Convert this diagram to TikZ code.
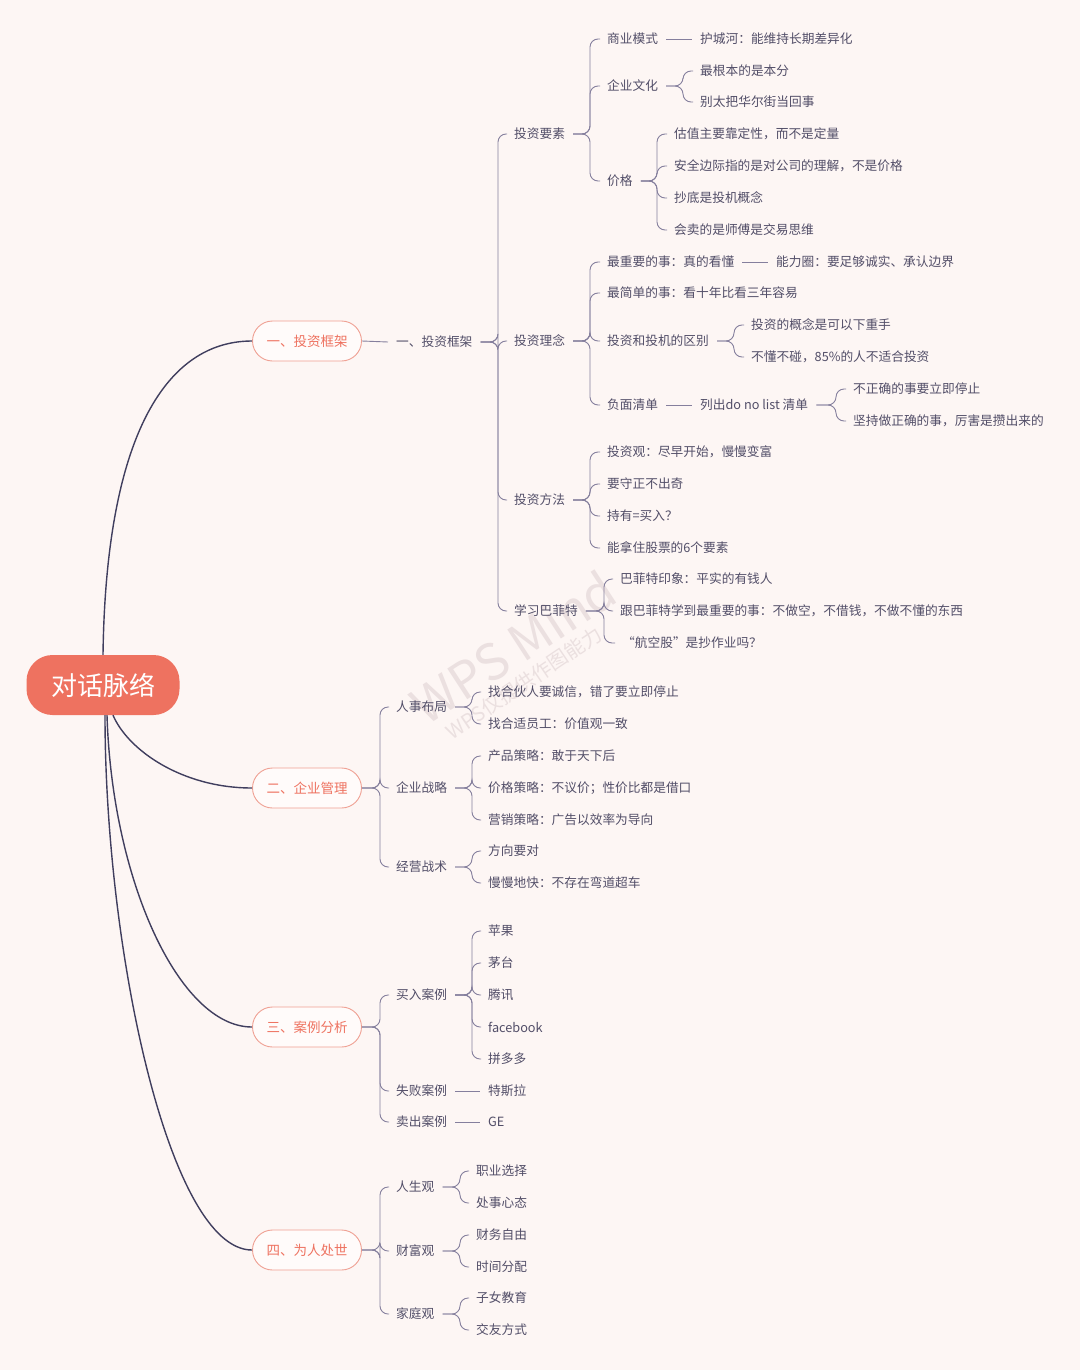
\documentclass[tikz,border=0pt]{standalone}
\usepackage{fontspec}
\setmainfont{Noto Sans CJK SC}
\usepackage{xcolor}
\usepackage{tikz}
\usetikzlibrary{positioning,calc,shapes.misc}
\definecolor{MapBg}{HTML}{FDF6F4}
\definecolor{MapCoral}{HTML}{EE7260}
\definecolor{MapRim}{HTML}{EFA093}
\definecolor{MapPill}{HTML}{FFFBFA}
\definecolor{MapInk}{HTML}{524E68}
\definecolor{MapLine}{HTML}{857F9D}
\definecolor{MapDark}{HTML}{403E5E}
\definecolor{MapMark}{HTML}{EBE0E0}

\begin{document}
\begin{tikzpicture}[x=1pt,y=-1pt,
  leaf/.style={anchor=west,inner sep=0pt,text=MapInk,font=\fontsize{12.7}{14}\selectfont},
  topic/.style={rounded rectangle,draw=MapRim,line width=0.9pt,fill=MapPill,text=MapCoral,
    minimum width=109pt,minimum height=40pt,inner sep=0pt,font=\fontsize{13.5}{15}\selectfont},
  link/.style={draw=MapLine,line width=0.9pt,rounded corners=8pt},
  stem/.style={draw=MapDark,line width=1.4pt}]
\fill[MapBg] (0,0) rectangle (1080,1370);
\useasboundingbox (0,0) rectangle (1080,1370);

% watermark
\node[rotate=33,text=MapMark,font=\fontsize{50}{52}\selectfont] (wm) at (513,647) {WPS Mind};
\node[rotate=34,text=MapMark,font=\fontsize{20}{22}\selectfont] (wmsub) at (524,683) {WPS仅提供作图能力};

% root and main topics
\node[fill=MapCoral,text=white,rounded corners=26pt,minimum width=153pt,minimum height=60pt,
  font=\fontsize{26}{28}\selectfont] (root) at (103,685) {对话脉络};
\node[topic] (t1) at (307,341) {一、投资框架};
\node[topic] (t2) at (307,788) {二、企业管理};
\node[topic] (t3) at (307,1027) {三、案例分析};
\node[topic] (t4) at (307,1250) {四、为人处世};

\draw[stem] (root.north) .. controls +(3,-225) and +(-83,0) .. (t1.west);
\draw[stem] ([xshift=10pt]root.south) .. controls +(15,35) and +(-70,0) .. (t2.west);
\draw[stem] ([xshift=4pt]root.south) .. controls +(5,165) and +(-73,0) .. (t3.west);
\draw[stem] ([xshift=2pt]root.south) .. controls +(0,235) and +(-83,0) .. (t4.west);

% 一
\node[leaf] (k0) at (396,342) {一、投资框架};
\node[leaf] (ys) at (514,134) {投资要素};
\node[leaf] (ln) at (514,341) {投资理念};
\node[leaf] (ff) at (514,500) {投资方法};
\node[leaf] (bft) at (514,611) {学习巴菲特};

\node[leaf] (sy) at (607,39) {商业模式};
\node[leaf] (wh) at (607,86) {企业文化};
\node[leaf] (jg) at (607,181) {价格};
\node[leaf] (hch) at (700,39) {护城河：能维持长期差异化};
\node[leaf] (wh1) at (700,71) {最根本的是本分};
\node[leaf] (wh2) at (700,102) {别太把华尔街当回事};
\node[leaf] (jg1) at (674,134) {估值主要靠定性，而不是定量};
\node[leaf] (jg2) at (674,166) {安全边际指的是对公司的理解，不是价格};
\node[leaf] (jg3) at (674,198) {抄底是投机概念};
\node[leaf] (jg4) at (674,230) {会卖的是师傅是交易思维};

\node[leaf] (zy) at (607,262) {最重要的事：真的看懂};
\node[leaf] (zj) at (607,293) {最简单的事：看十年比看三年容易};
\node[leaf] (qb) at (607,341) {投资和投机的区别};
\node[leaf] (fm) at (607,405) {负面清单};
\node[leaf] (nl) at (776,262) {能力圈：要足够诚实、承认边界};
\node[leaf] (qb1) at (751,325) {投资的概念是可以下重手};
\node[leaf] (qb2) at (751,357) {不懂不碰，85\%的人不适合投资};
\node[leaf] (lc) at (700,405) {列出do no list 清单};
\node[leaf] (lc1) at (853,389) {不正确的事要立即停止};
\node[leaf] (lc2) at (853,421) {坚持做正确的事，厉害是攒出来的};

\node[leaf] (ff1) at (607,452) {投资观：尽早开始，慢慢变富};
\node[leaf] (ff2) at (607,484) {要守正不出奇};
\node[leaf] (ff3) at (607,516) {持有=买入？};
\node[leaf] (ff4) at (607,548) {能拿住股票的6个要素};

\node[leaf] (b1) at (620,579) {巴菲特印象：平实的有钱人};
\node[leaf] (b2) at (620,611) {跟巴菲特学到最重要的事：不做空，不借钱，不做不懂的东西};
\node[leaf] (b3) at (622,643) {“航空股”是抄作业吗？};

\draw[link] (t1.east) -- ([xshift=-8pt]k0.west);
\foreach \c in {ys,ln,ff,bft}
  \draw[link] ([xshift=8pt]k0.east) -- ([xshift=-16pt]k0.east -| \c.west) |- ([xshift=-7pt]\c.west);
\foreach \c in {sy,wh,jg}
  \draw[link] ([xshift=8pt]ys.east) -- ([xshift=-17pt]ys.east -| \c.west) |- ([xshift=-7pt]\c.west);
\draw[link] ([xshift=8pt]sy.east) -- ([xshift=-8pt]hch.west);
\foreach \c in {wh1,wh2}
  \draw[link] ([xshift=8pt]wh.east) -- ([xshift=-17pt]wh.east -| \c.west) |- ([xshift=-7pt]\c.west);
\foreach \c in {jg1,jg2,jg3,jg4}
  \draw[link] ([xshift=8pt]jg.east) -- ([xshift=-17pt]jg.east -| \c.west) |- ([xshift=-7pt]\c.west);
\foreach \c in {zy,zj,qb,fm}
  \draw[link] ([xshift=8pt]ln.east) -- ([xshift=-17pt]ln.east -| \c.west) |- ([xshift=-7pt]\c.west);
\draw[link] ([xshift=8pt]zy.east) -- ([xshift=-8pt]nl.west);
\foreach \c in {qb1,qb2}
  \draw[link] ([xshift=8pt]qb.east) -- ([xshift=-17pt]qb.east -| \c.west) |- ([xshift=-7pt]\c.west);
\draw[link] ([xshift=8pt]fm.east) -- ([xshift=-8pt]lc.west);
\foreach \c in {lc1,lc2}
  \draw[link] ([xshift=8pt]lc.east) -- ([xshift=-17pt]lc.east -| \c.west) |- ([xshift=-7pt]\c.west);
\foreach \c in {ff1,ff2,ff3,ff4}
  \draw[link] ([xshift=8pt]ff.east) -- ([xshift=-17pt]ff.east -| \c.west) |- ([xshift=-7pt]\c.west);
\foreach \c in {b1,b2,b3}
  \draw[link] ([xshift=8pt]bft.east) -- ([xshift=-16pt]bft.east -| b1.west) |- ([xshift=-7pt]\c.west);

% 二
\node[leaf] (rs) at (396,707) {人事布局};
\node[leaf] (zl) at (396,788) {企业战略};
\node[leaf] (zs) at (396,867) {经营战术};
\node[leaf] (rs1) at (488,692) {找合伙人要诚信，错了要立即停止};
\node[leaf] (rs2) at (488,724) {找合适员工：价值观一致};
\node[leaf] (zl1) at (488,756) {产品策略：敢于天下后};
\node[leaf] (zl2) at (488,788) {价格策略：不议价；性价比都是借口};
\node[leaf] (zl3) at (488,820) {营销策略：广告以效率为导向};
\node[leaf] (zs1) at (488,851) {方向要对};
\node[leaf] (zs2) at (488,883) {慢慢地快：不存在弯道超车};

\foreach \c in {rs,zl,zs}
  \draw[link] (t2.east) -- ([xshift=-16pt]t2.east -| \c.west) |- ([xshift=-7pt]\c.west);
\foreach \c in {rs1,rs2}
  \draw[link] ([xshift=8pt]rs.east) -- ([xshift=-16pt]rs.east -| \c.west) |- ([xshift=-7pt]\c.west);
\foreach \c in {zl1,zl2,zl3}
  \draw[link] ([xshift=8pt]zl.east) -- ([xshift=-16pt]zl.east -| \c.west) |- ([xshift=-7pt]\c.west);
\foreach \c in {zs1,zs2}
  \draw[link] ([xshift=8pt]zs.east) -- ([xshift=-16pt]zs.east -| \c.west) |- ([xshift=-7pt]\c.west);

% 三
\node[leaf] (mr) at (396,995) {买入案例};
\node[leaf] (sb) at (396,1091) {失败案例};
\node[leaf] (mc) at (396,1122) {卖出案例};
\node[leaf] (mr1) at (488,931) {苹果};
\node[leaf] (mr2) at (488,963) {茅台};
\node[leaf] (mr3) at (488,995) {腾讯};
\node[leaf] (mr4) at (488,1027) {facebook};
\node[leaf] (mr5) at (488,1059) {拼多多};
\node[leaf] (tsl) at (488,1091) {特斯拉};
\node[leaf] (ge) at (488,1122) {GE};

\foreach \c in {mr,sb,mc}
  \draw[link] (t3.east) -- ([xshift=-16pt]t3.east -| \c.west) |- ([xshift=-7pt]\c.west);
\foreach \c in {mr1,mr2,mr3,mr4,mr5}
  \draw[link] ([xshift=8pt]mr.east) -- ([xshift=-16pt]mr.east -| \c.west) |- ([xshift=-7pt]\c.west);
\draw[link] ([xshift=8pt]sb.east) -- ([xshift=-8pt]tsl.west);
\draw[link] ([xshift=8pt]mc.east) -- ([xshift=-8pt]ge.west);

% 四
\node[leaf] (rsg) at (396,1187) {人生观};
\node[leaf] (cf) at (396,1251) {财富观};
\node[leaf] (jt) at (396,1314) {家庭观};
\node[leaf] (rsg1) at (476,1171) {职业选择};
\node[leaf] (rsg2) at (476,1203) {处事心态};
\node[leaf] (cf1) at (476,1235) {财务自由};
\node[leaf] (cf2) at (476,1267) {时间分配};
\node[leaf] (jt1) at (476,1298) {子女教育};
\node[leaf] (jt2) at (476,1330) {交友方式};

\foreach \c in {rsg,cf,jt}
  \draw[link] (t4.east) -- ([xshift=-16pt]t4.east -| \c.west) |- ([xshift=-7pt]\c.west);
\foreach \c in {rsg1,rsg2}
  \draw[link] ([xshift=8pt]rsg.east) -- ([xshift=-16pt]rsg.east -| \c.west) |- ([xshift=-7pt]\c.west);
\foreach \c in {cf1,cf2}
  \draw[link] ([xshift=8pt]cf.east) -- ([xshift=-16pt]cf.east -| \c.west) |- ([xshift=-7pt]\c.west);
\foreach \c in {jt1,jt2}
  \draw[link] ([xshift=8pt]jt.east) -- ([xshift=-16pt]jt.east -| \c.west) |- ([xshift=-7pt]\c.west);
\end{tikzpicture}
\end{document}
